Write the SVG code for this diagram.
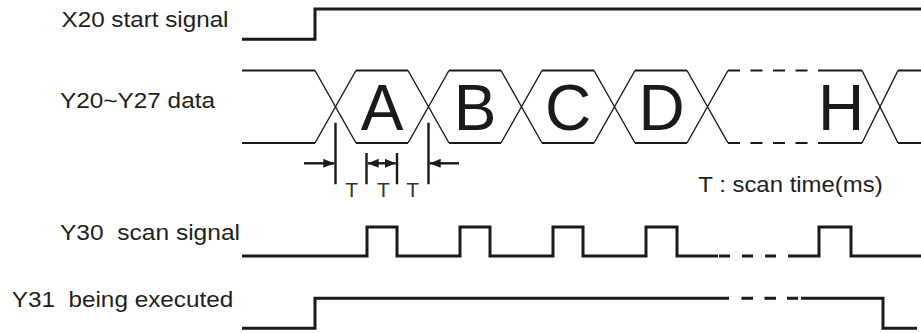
<svg xmlns="http://www.w3.org/2000/svg" width="921" height="333" viewBox="0 0 921 333">
<defs>
<style>
.sig{fill:none;stroke:#1a1a1a;stroke-width:3;stroke-linejoin:miter;stroke-linecap:butt}
.bus{fill:none;stroke:#1a1a1a;stroke-width:2.2}
.sl{fill:none;stroke:#1a1a1a;stroke-width:1.4}
.dash{fill:none;stroke:#1a1a1a;stroke-width:2.2;stroke-dasharray:12 10.5}
.dim{fill:none;stroke:#1a1a1a;stroke-width:2.4}
.lbl{font-family:"Liberation Sans",Arial,sans-serif;font-size:21.5px;fill:#231f20}
.big{font-family:"Liberation Sans",Arial,sans-serif;font-size:64px;fill:#1a1a1a;text-anchor:middle}
.t{font-family:"Liberation Sans",Arial,sans-serif;font-size:21px;fill:#333;text-anchor:middle}
</style>
<marker id="ah" viewBox="0 0 11 9" refX="11" refY="4.5" markerWidth="11" markerHeight="9" markerUnits="userSpaceOnUse" orient="auto-start-reverse">
<path d="M0,0 L11,4.5 L0,9 z" fill="#1a1a1a"/>
</marker>
</defs>
<rect width="921" height="333" fill="#fff"/>

<g id="x20">
<text class="lbl" x="61.5" y="27.3" textLength="167" lengthAdjust="spacingAndGlyphs" xml:space="preserve">X20 start signal</text>
<path class="sig" d="M242,39.3 H315 V9 H921"/>
</g>

<g id="data">
<text class="lbl" x="60" y="108.3" textLength="155" lengthAdjust="spacingAndGlyphs" xml:space="preserve">Y20~Y27 data</text>
<path class="bus" d="M242,70.5 H315 M356,70.5 H408 M449,70.5 H501 M542,70.5 H594 M635,70.5 H687 M830,70.5 H862 M898,70.5 H921"/>
<path class="bus" d="M242,143 H315 M356,143 H408 M449,143 H501 M542,143 H594 M635,143 H687 M830,143 H862 M898,143 H921"/>
<path class="dash" d="M728,70.5 H830 M728,143 H830"/>
<path class="sl" d="M315,70.5 L356,143 M315,143 L356,70.5 M408,70.5 L449,143 M408,143 L449,70.5 M501,70.5 L542,143 M501,143 L542,70.5 M594,70.5 L635,143 M594,143 L635,70.5 M687,70.5 L728,143 M687,143 L728,70.5 M862,70.5 L898,143 M862,143 L898,70.5"/>
<text class="big" x="382" y="130">A</text>
<text class="big" x="475" y="130">B</text>
<text class="big" x="568" y="130">C</text>
<text class="big" x="661.5" y="130">D</text>
<text class="big" x="841" y="130">H</text>
</g>

<g id="timing-T">
<path class="dim" d="M335.5,122.7 V184.3 M366.5,153 V184.3 M397,153 V184.3 M428.5,122.7 V184.3"/>
<line class="dim" x1="304" y1="163.3" x2="334.3" y2="163.3" marker-end="url(#ah)"/>
<line class="dim" x1="367.7" y1="163.3" x2="395.8" y2="163.3" marker-start="url(#ah)" marker-end="url(#ah)"/>
<line class="dim" x1="459" y1="163.3" x2="429.7" y2="163.3" marker-end="url(#ah)"/>
<text class="t" x="351.7" y="197">T</text>
<text class="t" x="383.3" y="197">T</text>
<text class="t" x="412.7" y="197">T</text>
<text class="lbl" x="698.3" y="191.7" textLength="184.4" lengthAdjust="spacingAndGlyphs" xml:space="preserve">T : scan time(ms)</text>
</g>

<g id="y30">
<text class="lbl" x="60" y="240" textLength="180" lengthAdjust="spacingAndGlyphs" xml:space="preserve">Y30  scan signal</text>
<path class="sig" d="M242,256 H367 V227 H397 V256 H460 V227 H490 V256 H553 V227 H583 V256 H646 V227 H677 V256 H718"/>
<path class="sig" d="M719,256 H730 M742,256 H753 M765,256 H776 M788,256 H800"/>
<path class="sig" d="M800,256 H819 V227 H851 V256 H921"/>
</g>

<g id="y31">
<text class="lbl" x="11.7" y="306.7" textLength="221.6" lengthAdjust="spacingAndGlyphs" xml:space="preserve">Y31  being executed</text>
<path class="sig" d="M242,328.3 H315 V298.3 H729"/>
<path class="sig" d="M741.5,298.3 H753 M764.5,298.3 H776 M787,298.3 H798"/>
<path class="sig" d="M801,298.3 H883 V328.3 H917"/>
</g>
</svg>
